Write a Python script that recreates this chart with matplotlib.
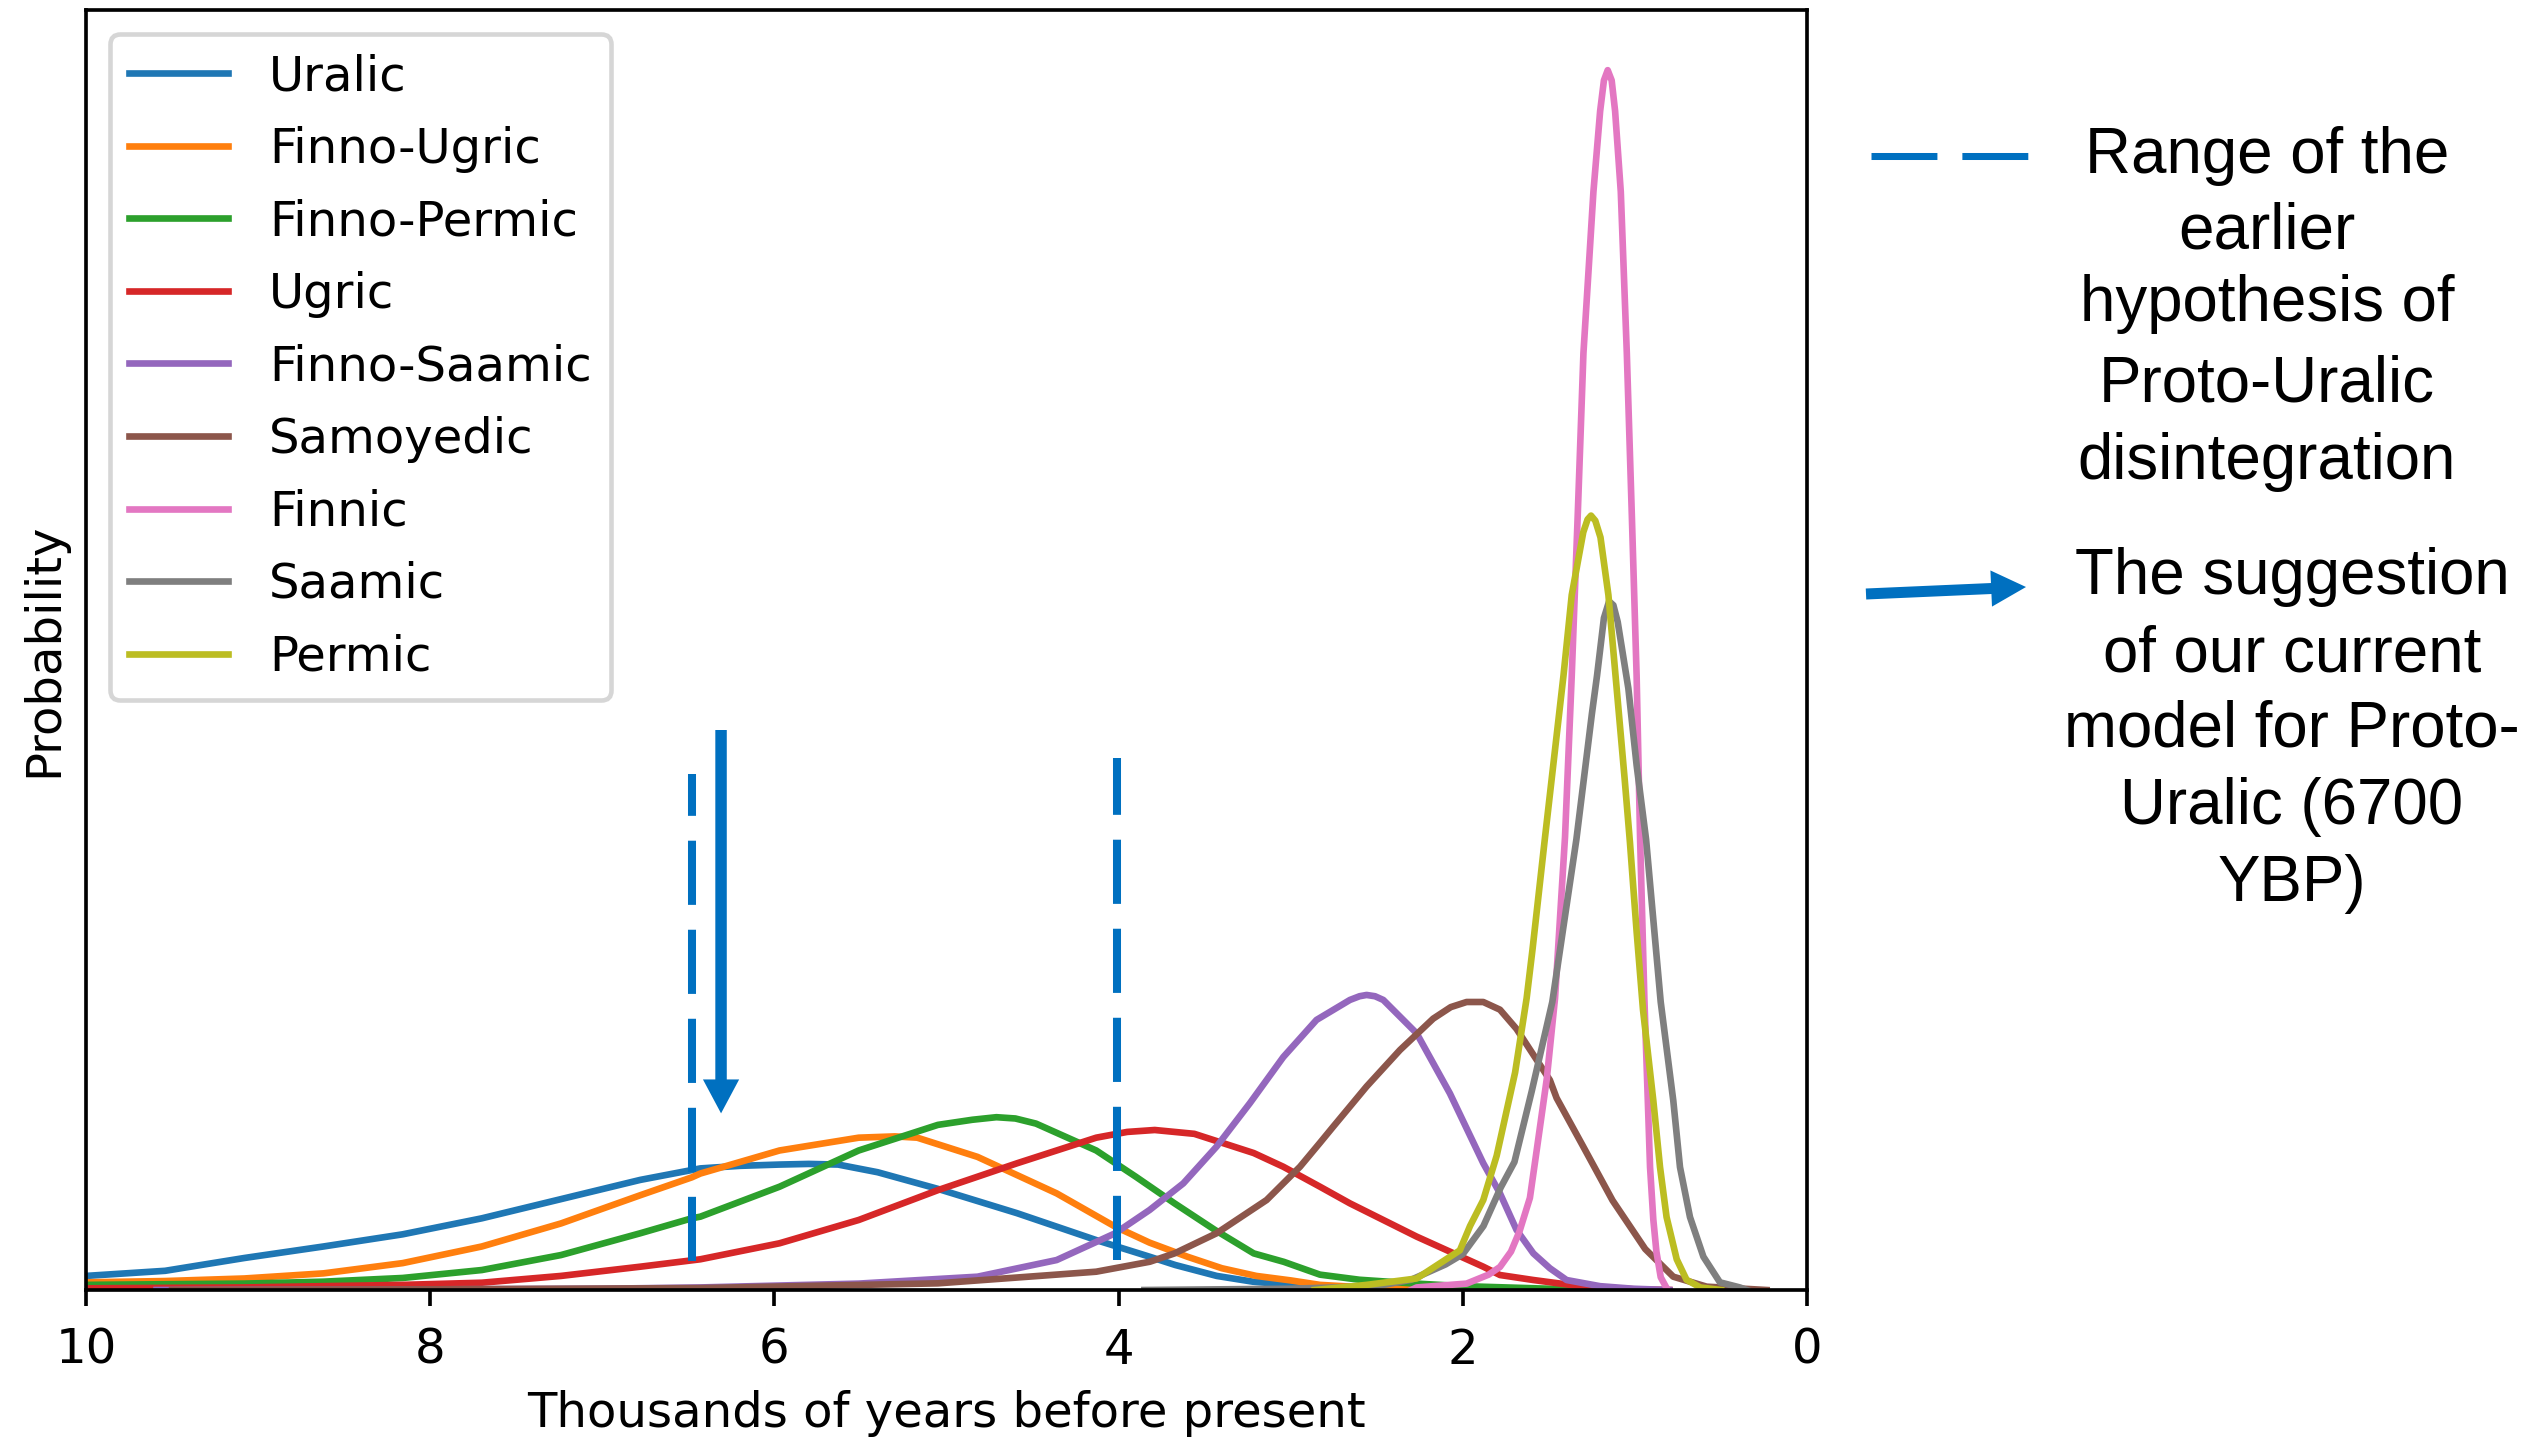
import matplotlib
matplotlib.use('Agg')
import matplotlib.pyplot as plt
from matplotlib.lines import Line2D
from matplotlib.patches import FancyArrowPatch

# ---------------- data ----------------
series_names = ['Uralic', 'Finno-Ugric', 'Finno-Permic', 'Ugric', 'Finno-Saamic',
                'Samoyedic', 'Finnic', 'Saamic', 'Permic']

uralic_x = [10.0, 9.54, 9.08, 8.62, 8.16, 7.70, 7.24, 6.78, 6.43, 6.2, 5.97, 5.8, 5.63, 5.40,
            5.05, 4.59, 4.13, 3.82, 3.67, 3.43, 3.22, 3.0, 2.83, 2.5, 2.0, 1.5]
uralic_y = [0.011, 0.015, 0.025, 0.034, 0.0435, 0.056, 0.071, 0.086, 0.095, 0.097, 0.098, 0.0985,
            0.098, 0.092, 0.079, 0.060, 0.039, 0.026, 0.0195, 0.011, 0.0065, 0.004, 0.0026, 0.001,
            0.0003, 0.0]

fugric_x = [10.0, 9.54, 9.08, 8.62, 8.16, 7.70, 7.24, 6.78, 6.48, 6.43, 5.97, 5.51, 5.3, 5.17,
            4.82, 4.36, 4.02, 3.82, 3.6, 3.4, 3.2, 3.0, 2.83, 2.5, 2.0, 1.5]
fugric_y = [0.006, 0.007, 0.009, 0.013, 0.021, 0.034, 0.052, 0.074, 0.088, 0.091, 0.109, 0.119,
            0.120, 0.119, 0.104, 0.0755, 0.0495, 0.037, 0.026, 0.017, 0.011, 0.0075, 0.004, 0.0015,
            0.0004, 0.0]

fpermic_x = [10.0, 9.08, 8.62, 8.16, 7.70, 7.24, 6.78, 6.48, 6.43, 5.97, 5.51, 5.05, 4.85, 4.71,
             4.6, 4.48, 4.13, 3.90, 3.675, 3.44, 3.215, 3.04, 2.83, 2.6, 2.27, 2.0, 1.5, 1.0]
fpermic_y = [0.004, 0.005, 0.0065, 0.0094, 0.0156, 0.0273, 0.0443, 0.056, 0.0573, 0.0807, 0.109,
             0.129, 0.133, 0.135, 0.134, 0.130, 0.109, 0.0885, 0.0677, 0.0469, 0.0286, 0.022,
             0.012, 0.008, 0.005, 0.003, 0.001, 0.0]

ugric_x = [10.0, 9.08, 8.16, 7.70, 7.24, 6.78, 6.43, 5.97, 5.51, 5.05, 4.59, 4.13, 3.95, 3.79,
           3.56, 3.215, 3.043, 2.83, 2.656, 2.268, 1.881, 1.784, 1.59, 1.32, 1.0, 0.8]
ugric_y = [0.0013, 0.002, 0.004, 0.0057, 0.011, 0.0182, 0.024, 0.0365, 0.0547, 0.078, 0.099,
           0.119, 0.1235, 0.125, 0.122, 0.107, 0.0963, 0.0807, 0.0677, 0.0417, 0.0182, 0.0117,
           0.0078, 0.003, 0.0005, 0.0]

fsaamic_x = [9.59, 8.0, 7.0, 6.43, 5.51, 4.82, 4.36, 4.02, 3.82, 3.624, 3.431, 3.237, 3.043, 2.85,
             2.656, 2.6, 2.559, 2.51, 2.462, 2.268, 2.075, 1.881, 1.784, 1.688, 1.59, 1.494,
             1.397, 1.203, 1.01, 0.8]
fsaamic_y = [0.0, 0.0005, 0.001, 0.002, 0.005, 0.0104, 0.0234, 0.0443, 0.0625, 0.0833, 0.112,
             0.146, 0.182, 0.211, 0.2266, 0.2295, 0.2305, 0.2295, 0.2266, 0.2005, 0.1536, 0.099,
             0.0755, 0.047, 0.0286, 0.017, 0.0078, 0.003, 0.001, 0.0]

samoyedic_x = [9.5, 8.0, 6.43, 5.05, 4.13, 3.818, 3.675, 3.431, 3.14, 2.946, 2.83, 2.753, 2.559,
               2.365, 2.172, 2.07, 1.978, 1.881, 1.784, 1.688, 1.494, 1.455, 1.30, 1.13, 0.94,
               0.777, 0.583, 0.235]
samoyedic_y = [0.0, 0.0005, 0.0015, 0.0052, 0.0143, 0.0221, 0.0286, 0.0443, 0.0703, 0.0963,
               0.115, 0.1276, 0.159, 0.1875, 0.212, 0.221, 0.225, 0.225, 0.219, 0.204, 0.164,
               0.15, 0.112, 0.07, 0.032, 0.0104, 0.0026, 0.0]

finnic_x = [2.3, 2.268, 1.978, 1.85, 1.784, 1.72, 1.67, 1.61, 1.575, 1.512, 1.464, 1.406, 1.367,
            1.332, 1.299, 1.241, 1.202, 1.18, 1.158, 1.135, 1.115, 1.082, 1.047, 1.018, 0.99,
            0.97, 0.945, 0.925, 0.912, 0.893, 0.875, 0.85, 0.81]
finnic_y = [0.0, 0.002, 0.005, 0.012, 0.018, 0.03, 0.046, 0.072, 0.105, 0.165, 0.228, 0.354,
            0.48, 0.606, 0.732, 0.858, 0.921, 0.945, 0.953, 0.945, 0.921, 0.858, 0.732, 0.606,
            0.48, 0.354, 0.228, 0.148, 0.096, 0.055, 0.03, 0.01, 0.0]

saamic_x = [3.85, 3.0, 2.5, 2.3, 2.1, 2.0, 1.88, 1.78, 1.70, 1.60, 1.48, 1.34, 1.25, 1.22, 1.18,
            1.15, 1.125, 1.10, 1.038, 0.99, 0.935, 0.85, 0.777, 0.738, 0.68, 0.602, 0.506, 0.39,
            0.35]
saamic_y = [0.0, 0.001, 0.003, 0.008, 0.02, 0.028, 0.05, 0.08, 0.10, 0.155, 0.225, 0.352, 0.45,
            0.48, 0.525, 0.538, 0.535, 0.522, 0.47, 0.41, 0.352, 0.225, 0.148, 0.096, 0.057,
            0.026, 0.006, 0.002, 0.0]

permic_x = [2.86, 2.559, 2.268, 2.074, 2.017, 1.958, 1.881, 1.803, 1.696, 1.629, 1.595, 1.522,
            1.415, 1.367, 1.30, 1.275, 1.255, 1.23, 1.20, 1.154, 1.106, 1.06, 1.029, 0.99, 0.953,
            0.92, 0.893, 0.854, 0.816, 0.757, 0.70, 0.62, 0.5]
permic_y = [0.0, 0.004, 0.009, 0.026, 0.031, 0.05, 0.0703, 0.105, 0.17, 0.228, 0.266, 0.354,
            0.48, 0.543, 0.592, 0.602, 0.605, 0.601, 0.588, 0.543, 0.47, 0.40, 0.35, 0.28, 0.219,
            0.18, 0.148, 0.096, 0.057, 0.024, 0.008, 0.002, 0.0]

series_x = [uralic_x, fugric_x, fpermic_x, ugric_x, fsaamic_x, samoyedic_x, finnic_x, saamic_x,
            permic_x]
series_y = [uralic_y, fugric_y, fpermic_y, ugric_y, fsaamic_y, samoyedic_y, finnic_y, saamic_y,
            permic_y]

x_ticks = [10, 8, 6, 4, 2, 0]
x_tick_labels = ['10', '8', '6', '4', '2', '0']

earlier_range = [6.48, 4.01]          # thousands of years BP (dashed markers)
model_estimate = 6.31                 # arrow position (thousands of years BP)

note_range = ['Range of the', 'earlier', 'hypothesis of', 'Proto-Uralic', 'disintegration']
note_model = ['The suggestion', 'of our current', 'model for Proto-', 'Uralic (6700', 'YBP)']

# ---------------- figure ----------------
plt.rcParams['font.size'] = 10.5
W, H, DPI = 2534, 1440, 330
fig = plt.figure(figsize=(W / DPI, H / DPI), dpi=DPI)
ax = fig.add_axes([86 / W, 150 / H, (1807 - 86) / W, 1280 / H])

for name, xs, ys in zip(series_names, series_x, series_y):
    ax.plot(xs, ys, lw=1.45, label=name, solid_joinstyle='round')

ax.set_xlim(10, 0)
ax.set_ylim(0, 1.0)
ax.set_xticks(x_ticks)
ax.set_xticklabels(x_tick_labels)
ax.set_yticks([])
ax.tick_params(axis='x', pad=4.5)
ax.set_xlabel('Thousands of years before present', labelpad=3.5)
ax.set_ylabel('Probability', labelpad=4)
ax.legend(loc='upper left', labelspacing=0.53, handlelength=2.05, handletextpad=0.85)

blue = '#0070C0'
dash_bottom = [0.023, 0.0234]
dash_top = [0.4035, 0.4156]
for xv, yb, yt in zip(earlier_range, dash_bottom, dash_top):
    ax.plot([xv, xv], [yb, yt], color=blue, lw=1.75, ls=(0, (8.0, 3.1)),
            dash_capstyle='butt', zorder=5)

ax.annotate('', xy=(model_estimate, 0.138), xytext=(model_estimate, 0.4375),
            arrowprops=dict(arrowstyle='simple,head_length=7.4,head_width=7.9,tail_width=2.5',
                            color=blue, lw=0, shrinkA=0, shrinkB=0, mutation_scale=1),
            zorder=6)

# ---------------- right-hand notes ----------------
fig.add_artist(Line2D([1871 / W, 2028.5 / W], [1 - 156 / H, 1 - 156 / H],
                      transform=fig.transFigure, color=blue, lw=1.53,
                      ls=(0, (9.4, 3.56)), dash_capstyle='butt'))
fig.add_artist(FancyArrowPatch((1866 / W, 1 - 594 / H), (2026 / W, 1 - 587 / H),
                               transform=fig.transFigure,
                               arrowstyle='simple,head_length=7.6,head_width=7.9,tail_width=2.4',
                               color=blue, lw=0, shrinkA=0, shrinkB=0, mutation_scale=1))

base1 = [172.7, 248.5, 321, 401, 479]
for txt, yb in zip(note_range, base1):
    fig.text(2267 / W, 1 - yb / H, txt, ha='center', va='baseline',
             family='Liberation Sans', fontsize=13.9)
base2 = [594, 671.5, 746.7, 824, 901]
for txt, yb in zip(note_model, base2):
    fig.text(2292 / W, 1 - yb / H, txt, ha='center', va='baseline',
             family='Liberation Sans', fontsize=13.9)

fig.savefig('out.png', dpi=DPI)
